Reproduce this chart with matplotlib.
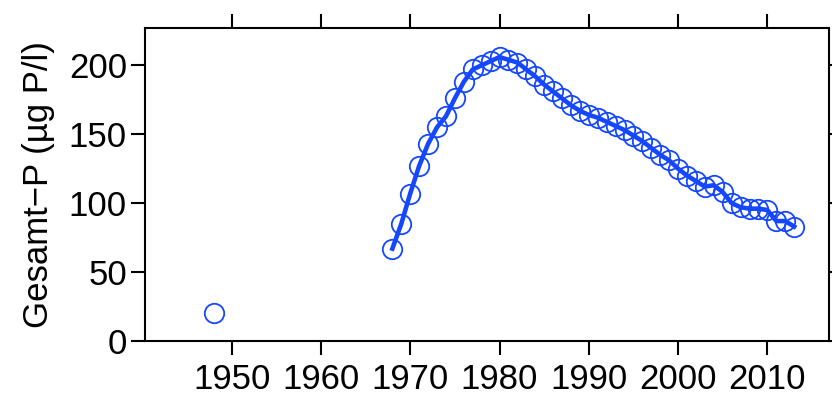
import matplotlib
matplotlib.use('Agg')
import matplotlib.pyplot as plt

plt.rcParams['font.family'] = ['Liberation Sans', 'DejaVu Sans']

# ─── DATA ─────────────────────────────────────────────────────────────────────
early_year = [1948]
early_tp = [20]

years = list(range(1968, 2014))
tp = [67, 85, 107, 127, 143, 155, 163, 176, 188, 197,
      200, 203, 206, 204, 202, 197, 192, 186, 181, 176,
      171, 167, 164, 162, 159, 156, 153, 149, 145, 140,
      135, 131, 125, 120, 116, 112, 113, 108, 100, 97,
      96, 96, 95, 87, 87, 83]

x_ticks = [1950, 1960, 1970, 1980, 1990, 2000, 2010]
y_ticks = [0, 50, 100, 150, 200]

BLUE = '#1547ff'

# ─── PLOT ─────────────────────────────────────────────────────────────────────
fig = plt.figure(figsize=(8.32, 4.01), dpi=100)
ax = fig.add_axes([0.1743, 0.1496, 0.8221, 0.7804])

ax.plot(years, tp, color=BLUE, lw=3.3, zorder=2)
ax.plot(years + early_year, tp + early_tp, ls='none', marker='o', ms=14,
        mfc='none', mec=BLUE, mew=1.3, zorder=3)

ax.set_xlim(1940.3, 2016.9)
ax.set_ylim(0, 227)
ax.set_xticks(x_ticks)
ax.set_yticks(y_ticks)

ax.tick_params(axis='both', direction='out', length=10, width=1.5,
               labelsize=25, top=True, right=True)
ax.tick_params(axis='x', pad=6)
ax.tick_params(axis='y', pad=3)
for s in ax.spines.values():
    s.set_linewidth(1.5)

ax.set_ylabel('Gesamt\u2212P (\u00b5g P/l)', fontsize=25, labelpad=10)

fig.savefig('out.png', dpi=100)
